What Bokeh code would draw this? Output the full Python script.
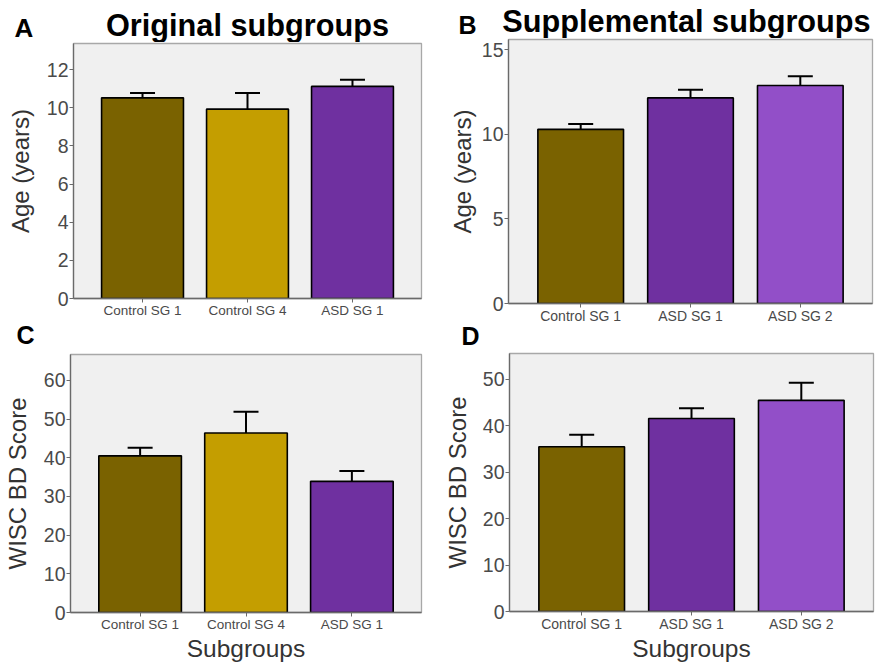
from bokeh.plotting import figure
from bokeh.models import ColumnDataSource, Range1d, FactorRange, Whisker, TeeHead, Label, FixedTicker
from bokeh.layouts import column, row
from bokeh.embed import file_html
from bokeh.resources import INLINE

# ---- data ----
groups_orig = ["Control SG 1", "Control SG 4", "ASD SG 1"]
groups_supp = ["Control SG 1", "ASD SG 1", "ASD SG 2"]

age_orig = [10.52, 9.93, 11.12]
age_orig_se = [0.25, 0.84, 0.35]
age_supp = [10.29, 12.15, 12.88]
age_supp_se = [0.31, 0.48, 0.55]

wisc_orig = [40.5, 46.4, 33.9]
wisc_orig_se = [2.1, 5.5, 2.7]
wisc_supp = [35.5, 41.6, 45.5]
wisc_supp_se = [2.6, 2.2, 3.8]

ticks_age_orig = [0, 2, 4, 6, 8, 10, 12]
ticks_age_supp = [0, 5, 10, 15]
ticks_wisc_orig = [0, 10, 20, 30, 40, 50, 60]
ticks_wisc_supp = [0, 10, 20, 30, 40, 50]

title_orig = "Original subgroups"
title_supp = "Supplemental subgroups"

colors = {
    "Control SG 1": "#7a6200",
    "Control SG 4": "#c49e00",
    "ASD SG 1": "#6f30a0",
    "ASD SG 2": "#924fc8",
}

FONT = "Liberation Sans"
K = 0.33  # baseline offset of Bokeh's "alphabetic" anchor, in em


def strip(width, height, texts):
    s = figure(width=width, height=height, x_range=Range1d(0, width), y_range=Range1d(0, height),
               output_backend="svg", toolbar_location=None, tools="",
               x_axis_location=None, y_axis_location=None,
               min_border=0, min_border_left=0, min_border_right=0,
               min_border_top=0, min_border_bottom=0)
    s.outline_line_color = None
    s.background_fill_color = "white"
    s.border_fill_color = "white"
    s.xgrid.visible = False
    s.ygrid.visible = False
    for (x, ybase, t, size, align) in texts:
        s.add_layout(Label(x=x, y=ybase + K * size, text=t, text_font=FONT,
                           text_font_style="bold", text_font_size=f"{size}px",
                           text_color="black", text_align=align,
                           text_baseline="alphabetic"))
    return s


def panel(groups, vals, ses, ymax, ticks, ylabel, xlabel,
          width, height, left, right, top, bottom, xfont, ylab_stand):
    src = ColumnDataSource(dict(
        g=groups, v=vals, up=[a + b for a, b in zip(vals, ses)],
        c=[colors[g] for g in groups]))
    p = figure(x_range=FactorRange(*groups, range_padding=0.105),
               y_range=Range1d(0, ymax),
               width=width, height=height, output_backend="svg",
               toolbar_location=None, tools="",
               min_border_left=left, min_border_right=right,
               min_border_top=top, min_border_bottom=bottom)
    p.border_fill_color = "white"
    p.outline_line_color = "#a8a8a8"
    p.outline_line_width = 1.3
    p.xgrid.visible = False
    p.ygrid.visible = False
    p.background_fill_color = "#f0f0f0"

    p.add_layout(Whisker(source=src, base="g", upper="up", lower="v",
                         line_color="black", line_width=2,
                         upper_head=TeeHead(size=25, line_color="black", line_width=2),
                         lower_head=None))
    p.vbar(x="g", top="v", width=0.78, source=src, fill_color="c",
           line_color="black", line_width=1.6)

    for ax in (p.xaxis[0], p.yaxis[0]):
        ax.axis_line_color = "#6a6a6a"
        ax.axis_line_width = 1.3
        ax.major_tick_line_color = "#6a6a6a"
        ax.major_tick_in = 0
        ax.major_tick_out = 4
        ax.minor_tick_line_color = None
        ax.major_label_text_font = FONT
        ax.major_label_text_color = "#4a4a4a"
        ax.axis_label_text_font = FONT
        ax.axis_label_text_font_style = "normal"
        ax.axis_label_text_color = "#333333"
        ax.axis_label_text_font_size = "24px"
    p.yaxis.ticker = FixedTicker(ticks=ticks)
    p.yaxis.major_label_text_font_size = "19.5px"
    p.yaxis.major_label_standoff = 1
    p.yaxis.axis_label = ylabel
    p.yaxis.axis_label_standoff = ylab_stand
    p.xaxis.major_label_text_font_size = xfont
    p.xaxis.major_label_standoff = 0
    if xlabel:
        p.xaxis.axis_label = xlabel
        p.xaxis.axis_label_text_font_size = "24.5px"
        p.xaxis.axis_label_standoff = 0
    return p


stripA = strip(440, 42, [(14, 5.7, "A", 26, "left"), (247, 7, title_orig, 30.7, "center")])
pA = panel(groups_orig, age_orig, age_orig_se, 13.37, ticks_age_orig,
           "Age (years)", None, 440, 278, 73, 19, 1, 22, "13.5px", 10)
stripC = strip(440, 29, [(16, 6, "C", 25, "left")])
pC = panel(groups_orig, wisc_orig, wisc_orig_se, 66.7, ticks_wisc_orig,
           "WISC BD Score", "Subgroups", 440, 315, 69, 19, 5, 48, "13.5px", 10)

stripB = strip(435, 38, [(18, 5.4, "B", 25, "left"), (246, 6.8, title_supp, 30.7, "center")])
pB = panel(groups_supp, age_supp, age_supp_se, 15.6, ticks_age_supp,
           "Age (years)", None, 435, 288, 68, 3, 1, 22, "14px", 3)
stripD = strip(435, 22, [(21, 4, "D", 25, "left")])
pD = panel(groups_supp, wisc_supp, wisc_supp_se, 55.6, ticks_wisc_supp,
           "WISC BD Score", "Subgroups", 435, 316, 67, 2, 5, 47, "14px", 9)

colA = column(row(stripA), row(pA), row(stripC), row(pC))
colB = column(row(stripB), row(pB), row(stripD), row(pD))
layout = row(colA, colB)
open("out.html", "w").write(file_html(layout, INLINE))
